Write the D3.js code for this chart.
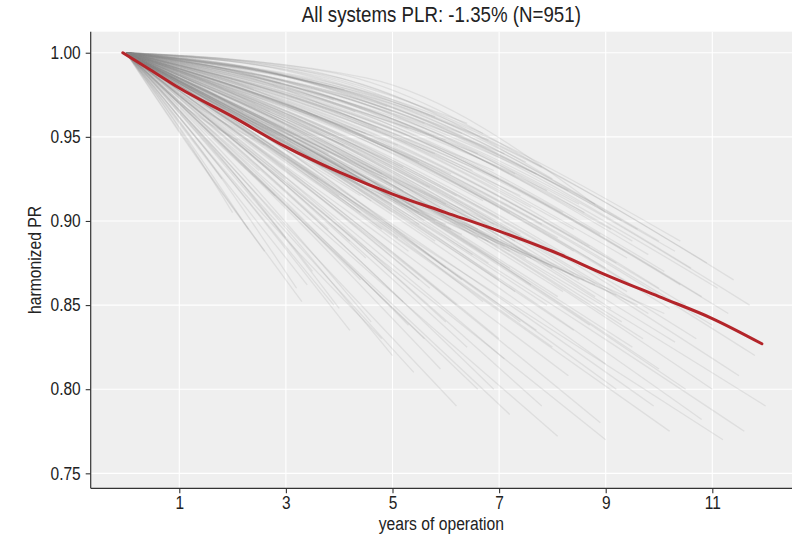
<!DOCTYPE html>
<html>
<head>
<meta charset="utf-8">
<script src="https://cdn.jsdelivr.net/npm/d3@7/dist/d3.min.js"></script>
<style>
  body { margin: 0; background: #fff; }
  text { font-family: 'Liberation Sans', Arial, Helvetica, sans-serif; fill: #222; }
</style>
</head>
<body>
<svg id="chart" width="803" height="537"></svg>
<script>
// ---- data ----
const chartTitle = "All systems PLR: -1.35% (N=951)";
const xLabel = "years of operation";
const yLabel = "harmonized PR";
const xTicks = [1, 3, 5, 7, 9, 11];
const yTicks = [0.75, 0.80, 0.85, 0.90, 0.95, 1.00];

// overall trend of the fleet
const trendYears = [-0.06, 0.5, 1, 2, 3, 4, 5, 6, 7, 8, 9, 10, 11, 11.93];
const trendPR    = [1.000, 0.989, 0.979, 0.962, 0.944, 0.929, 0.916, 0.905, 0.894, 0.882, 0.868, 0.855, 0.842, 0.827];

// individual systems: [last year of operation, PR at half that time, PR at last year]
const systemTraces = [
  [2.1,.969,.948],[2.3,.949,.895],[2.4,.990,.978],[2.5,.964,.930],[2.6,.939,.882],
  [2.7,.985,.965],[2.8,.956,.915],[2.9,.993,.982],[3.0,.946,.890],[3.1,.972,.948],
  [3.2,.934,.860],[3.3,.924,.852],[2.2,.985,.965],[3.0,.962,.925],[2.6,.969,.945],
  [1.8,.962,.925],[2.0,.955,.905],[3.4,.930,.862],[3.9,.925,.850],[3.6,.963,.925],
  [3.5,.939,.870],[3.6,.985,.962],[3.7,.966,.932],[3.8,.949,.895],[3.9,.990,.972],
  [4.0,.959,.915],[4.0,.929,.848],[4.1,.972,.945],[4.2,.946,.888],[4.2,.919,.835],
  [4.3,.988,.965],[4.3,.964,.925],[4.4,.954,.905],[4.4,.934,.865],[4.5,.976,.952],
  [4.5,.942,.878],[3.8,.969,.940],[4.1,.992,.978],[4.6,.924,.840],[4.6,.959,.912],
  [4.4,.958,.915],
  [4.7,.985,.955],[4.8,.952,.895],[4.8,.966,.928],[4.9,.990,.968],[5.0,.939,.870],
  [5.0,.956,.905],[5.0,.914,.820],[5.1,.974,.945],[5.1,.949,.890],[5.2,.964,.918],
  [5.2,.929,.852],[5.3,.986,.955],[5.3,.944,.882],[5.4,.959,.910],[5.4,.904,.810],
  [5.5,.972,.935],[5.5,.936,.865],[4.9,.962,.925],[5.2,.969,.932],[5.0,.990,.965],
  [5.5,.952,.898],[5.3,.922,.838],[4.8,.910,.830],[5.5,.948,.905],[5.0,.955,.910],
  [5.6,.988,.958],[5.6,.956,.900],[5.7,.966,.920],[5.7,.934,.860],[5.8,.949,.888],
  [5.8,.974,.940],[5.9,.909,.812],[5.9,.960,.908],[6.0,.978,.948],[6.0,.942,.872],
  [6.0,.924,.840],[6.1,.969,.928],[6.1,.952,.895],[6.2,.894,.790],[6.2,.964,.915],
  [6.3,.985,.952],[6.3,.939,.865],[6.4,.956,.900],[6.4,.916,.825],[6.5,.972,.930],
  [6.5,.946,.880],[5.8,.990,.962],[6.2,.929,.850],[6.0,.962,.910],[6.4,.990,.958],
  [5.6,.915,.830],[6.6,.900,.800],[6.0,.944,.898],[6.3,.941,.892],[5.8,.950,.900],
  [6.6,.976,.940],[6.6,.952,.890],[6.7,.964,.912],[6.7,.932,.852],[6.8,.987,.948],
  [6.8,.944,.875],[6.9,.956,.898],[6.9,.904,.800],[7.0,.970,.925],[7.0,.939,.865],
  [7.0,.919,.830],[7.1,.978,.940],[7.1,.949,.885],[7.2,.962,.905],[7.2,.892,.785],
  [7.3,.973,.928],[7.3,.934,.858],[7.4,.954,.892],[7.4,.924,.840],[7.5,.985,.935],
  [7.5,.946,.878],[6.7,.990,.952],[7.0,.959,.902],[7.2,.942,.872],[7.4,.966,.915],
  [7.1,.912,.818],[6.9,.972,.930],[7.3,.952,.888],[6.8,.940,.888],[7.2,.936,.882],
  [6.6,.947,.895],[7.4,.943,.888],
  [7.6,.966,.908],[7.6,.939,.862],[7.7,.976,.928],[7.7,.952,.885],[7.8,.899,.790],
  [7.8,.960,.898],[7.9,.930,.850],[7.9,.972,.918],[8.0,.944,.872],[8.0,.985,.925],
  [8.0,.914,.825],[8.1,.956,.890],[8.1,.884,.772],[8.2,.968,.905],[8.2,.936,.858],
  [8.3,.949,.878],[8.3,.977,.918],[8.4,.922,.835],[8.4,.962,.895],[8.5,.942,.865],
  [8.5,.972,.910],[7.8,.988,.932],[8.1,.934,.855],[8.3,.906,.808],[7.7,.919,.835],
  [8.4,.954,.882],[7.6,.934,.878],[8.0,.932,.872],[8.4,.930,.868],[8.2,.938,.878],
  [8.6,.969,.905],[8.6,.944,.865],[8.7,.956,.885],[8.7,.926,.838],[8.8,.974,.910],
  [8.8,.939,.855],[8.9,.894,.780],[8.9,.962,.892],[9.0,.949,.872],[9.0,.985,.905],
  [9.0,.914,.815],[9.1,.934,.848],[9.1,.966,.895],[9.2,.952,.875],[9.2,.904,.800],
  [9.3,.972,.900],[9.3,.929,.840],[9.4,.956,.878],[9.4,.942,.858],[9.5,.919,.825],
  [9.5,.966,.888],[9.0,.884,.770],[8.8,.926,.862],[9.2,.924,.856],[9.0,.933,.868],
  [9.6,.972,.895],[9.6,.946,.860],[9.7,.924,.830],[9.8,.962,.880],[9.8,.934,.845],
  [9.9,.899,.790],[10.0,.969,.888],[10.0,.949,.860],[10.0,.914,.812],[10.1,.956,.870],
  [10.2,.939,.848],[10.2,.889,.775],[10.3,.964,.882],[10.3,.924,.828],[10.4,.952,.862],
  [10.4,.970,.888],[10.5,.909,.800],[10.5,.942,.850],[9.6,.921,.850],[10.1,.918,.845],
  [10.6,.962,.872],[10.7,.929,.830],[10.8,.949,.855],[10.8,.899,.782],[10.9,.966,.875],
  [11.0,.936,.838],[11.0,.912,.800],[11.1,.954,.860],[11.2,.884,.770],[11.3,.944,.845],
  [11.4,.962,.865],[11.5,.919,.808],[11.6,.894,.775],[11.7,.952,.850],[11.8,.929,.820],
  [12.0,.904,.790]
];

// ---- layout ----
const svg = d3.select("#chart");
const panel = { left: 90.7, right: 792, top: 31.7, bottom: 488.3 };

const x = d3.scaleLinear().domain([-0.662, 12.495]).range([panel.left, panel.right]);
const y = d3.scaleLinear().domain([0.7411, 1.0125]).range([panel.bottom, panel.top]);

// narrow the glyphs a little, as in a condensed sans
function condense(sel, k) {
  sel.each(function () {
    const w = this.getComputedTextLength();
    this.setAttribute("textLength", (w * k).toFixed(2));
    this.setAttribute("lengthAdjust", "spacingAndGlyphs");
  });
}

// panel background
svg.append("rect")
  .attr("x", panel.left).attr("y", panel.top)
  .attr("width", panel.right - panel.left).attr("height", panel.bottom - panel.top)
  .attr("fill", "#efefef");

svg.append("clipPath").attr("id", "panel-clip").append("rect")
  .attr("x", panel.left).attr("y", panel.top)
  .attr("width", panel.right - panel.left).attr("height", panel.bottom - panel.top);

// grid
const grid = svg.append("g");
grid.selectAll("line.gx").data(xTicks).join("line")
  .attr("x1", d => x(d)).attr("x2", d => x(d))
  .attr("y1", panel.top).attr("y2", panel.bottom)
  .attr("stroke", "#fff").attr("stroke-width", 1.1);
grid.selectAll("line.gy").data(yTicks).join("line")
  .attr("y1", d => y(d)).attr("y2", d => y(d))
  .attr("x1", panel.left).attr("x2", panel.right)
  .attr("stroke", "#fff").attr("stroke-width", 1.1);

// system traces
const plot = svg.append("g").attr("clip-path", "url(#panel-clip)");
const traceLine = d3.line()
  .x(d => x(d[0])).y(d => y(d[1]))
  .curve(d3.curveMonotoneX);

plot.append("g").selectAll("path").data(systemTraces).join("path")
  .attr("d", d => traceLine([[0, 1], [d[0] / 2, d[1]], [d[0], d[2]]]))
  .attr("fill", "none")
  .attr("stroke", "#8a8a8a")
  .attr("stroke-opacity", 0.16)
  .attr("stroke-width", 1.3);

// fleet trend
const trend = trendYears.map((t, i) => [t, trendPR[i]]);
plot.append("path")
  .attr("d", d3.line().x(d => x(d[0])).y(d => y(d[1])).curve(d3.curveMonotoneX)(trend))
  .attr("fill", "none")
  .attr("stroke", "#b3252a")
  .attr("stroke-width", 3)
  .attr("stroke-linecap", "round")
  .attr("stroke-linejoin", "round");

// axes
const xAxis = svg.append("g")
  .attr("transform", `translate(0,${panel.bottom})`)
  .call(d3.axisBottom(x).tickValues(xTicks).tickFormat(d3.format("d")).tickSize(5).tickPadding(3));
const yAxis = svg.append("g")
  .attr("transform", `translate(${panel.left},0)`)
  .call(d3.axisLeft(y).tickValues(yTicks).tickFormat(d3.format(".2f")).tickSize(5).tickPadding(5));

[xAxis, yAxis].forEach(a => {
  a.select(".domain").attr("stroke", "#333").attr("stroke-width", 1.2);
  a.selectAll(".tick line").attr("stroke", "#333").attr("stroke-width", 1.1);
  a.selectAll(".tick text").attr("font-size", 18).attr("fill", "#222")
    .attr("font-family", "'Liberation Sans', Arial, sans-serif");
  condense(a.selectAll(".tick text"), 0.86);
});
// axis lines span the whole panel edge
xAxis.select(".domain").attr("d", `M${panel.left},0H${panel.right}`);
yAxis.select(".domain").attr("d", `M0,${panel.top}V${panel.bottom}`);

// titles
const title = svg.append("text")
  .attr("x", (panel.left + panel.right) / 2).attr("y", 22)
  .attr("text-anchor", "middle").attr("font-size", 22)
  .text(chartTitle);
condense(title, 0.85);

const xt = svg.append("text")
  .attr("x", (panel.left + panel.right) / 2).attr("y", 530)
  .attr("text-anchor", "middle").attr("font-size", 18)
  .text(xLabel);
condense(xt, 0.87);

const yt = svg.append("text")
  .attr("transform", `translate(41,${(panel.top + panel.bottom) / 2}) rotate(-90)`)
  .attr("text-anchor", "middle").attr("font-size", 18)
  .text(yLabel);
condense(yt, 0.87);
</script>
</body>
</html>
